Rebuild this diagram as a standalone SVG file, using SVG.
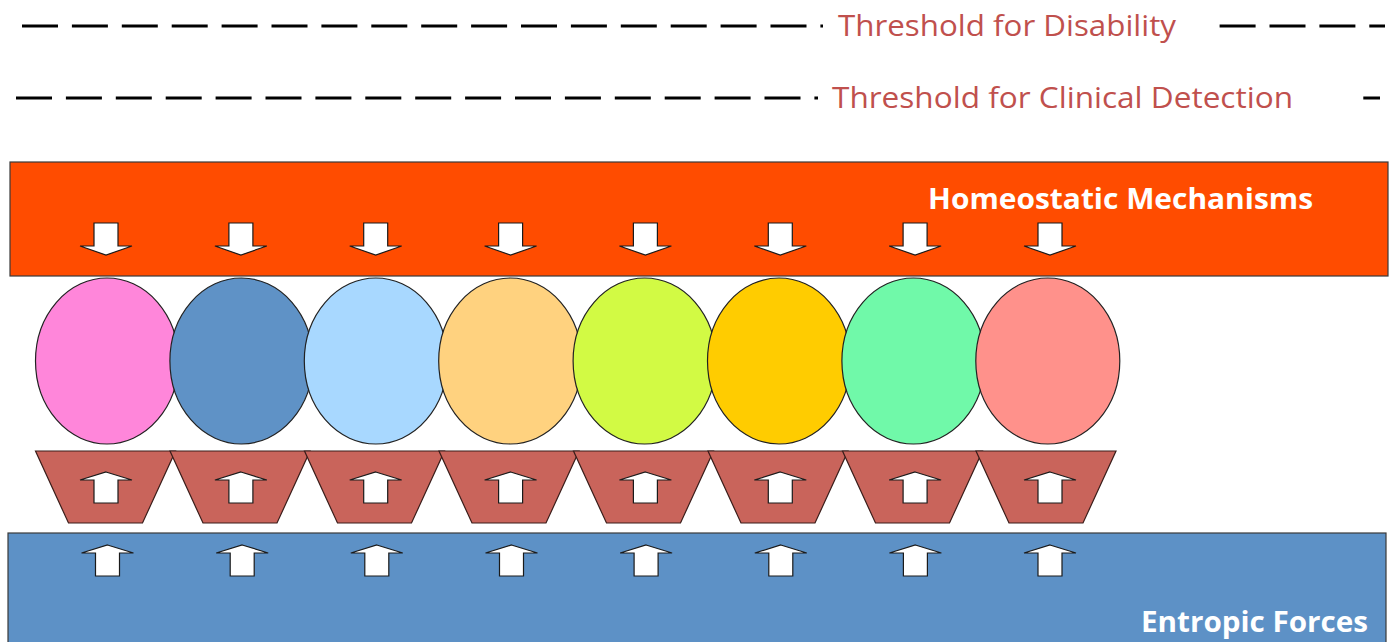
<svg xmlns="http://www.w3.org/2000/svg" xmlns:xlink="http://www.w3.org/1999/xlink" width="1396" height="642" viewBox="0 0 1396 642">
  <style>
    .dash { stroke: #000; stroke-width: 3; stroke-dasharray: 36 13.9; fill: none; }
    .thr { font-family: "Open Sans", "Noto Sans", sans-serif; font-size: 29px; fill: #C0504D; }
    .bar-label { font-family: "Open Sans", "Noto Sans", sans-serif; font-size: 28px; font-weight: bold; fill: #fff; }
    .bar { stroke: #3a3a3a; stroke-width: 1.2; }
    .cell { stroke: #222; stroke-width: 1.2; }
    .cup { fill: #C9645B; stroke: #3a1d1a; stroke-width: 1.2; }
    .arrow { fill: #fff; stroke: #1a1a1a; stroke-width: 1.2; stroke-linejoin: miter; }
  </style>
  <defs>
    <polygon id="arrowDown" points="-12,0 12,0 12,23 26,23 0,32 -26,23 -12,23"/>
    <polygon id="arrowUp" points="0,0 26,8 12,8 12,31 -12,31 -12,8 -26,8"/>
    <polygon id="cupShape" points="-70,0 70,0 37,72 -37,72"/>
  </defs>

  <rect width="1396" height="642" fill="#fff"/>

  <!-- Threshold lines -->
  <g id="threshold-disability">
    <line class="dash" x1="22" y1="26" x2="1385" y2="26"/>
    <rect x="823" y="8" width="396" height="38" fill="#fff"/>
    <text class="thr" x="838" y="36" textLength="338" lengthAdjust="spacingAndGlyphs">Threshold for Disability</text>
  </g>
  <g id="threshold-clinical">
    <line class="dash" x1="16" y1="98" x2="1380" y2="98"/>
    <rect x="818" y="80" width="543" height="38" fill="#fff"/>
    <text class="thr" x="832" y="108" textLength="461" lengthAdjust="spacingAndGlyphs">Threshold for Clinical Detection</text>
  </g>

  <!-- Homeostatic mechanisms bar -->
  <g id="homeostatic">
    <rect class="bar" x="10" y="162" width="1378" height="114" fill="#FF4C00"/>
    <text class="bar-label" x="928" y="209" textLength="385" lengthAdjust="spacingAndGlyphs">Homeostatic Mechanisms</text>
  </g>

  <!-- Entropic forces bar -->
  <g id="entropic">
    <rect class="bar" x="8" y="533" width="1378" height="120" fill="#5D91C6"/>
    <text class="bar-label" x="1141" y="632" textLength="227" lengthAdjust="spacingAndGlyphs">Entropic Forces</text>
  </g>

  <!-- Cells -->
  <g id="cells">
    <ellipse id="cell-1" class="cell" cx="107" cy="361" rx="71.5" ry="83" fill="#FF86DA"/>
    <ellipse id="cell-2" class="cell" cx="241.4" cy="361" rx="71.5" ry="83" fill="#5F92C6"/>
    <ellipse id="cell-3" class="cell" cx="375.8" cy="361" rx="71.5" ry="83" fill="#A8D8FF"/>
    <ellipse id="cell-4" class="cell" cx="510.2" cy="361" rx="71.5" ry="83" fill="#FFD27F"/>
    <ellipse id="cell-5" class="cell" cx="644.6" cy="361" rx="71.5" ry="83" fill="#D2FA44"/>
    <ellipse id="cell-6" class="cell" cx="779" cy="361" rx="71.5" ry="83" fill="#FFCC00"/>
    <ellipse id="cell-7" class="cell" cx="913.4" cy="361" rx="71.5" ry="83" fill="#70F9A9"/>
    <ellipse id="cell-8" class="cell" cx="1047.8" cy="361" rx="72" ry="83" fill="#FF918B"/>
  </g>

  <!-- Trapezoid supports -->
  <g id="cups">
    <use xlink:href="#cupShape" class="cup" transform="translate(105.5,451)"/>
    <use xlink:href="#cupShape" class="cup" transform="translate(240,451)"/>
    <use xlink:href="#cupShape" class="cup" transform="translate(374.5,451)"/>
    <use xlink:href="#cupShape" class="cup" transform="translate(509,451)"/>
    <use xlink:href="#cupShape" class="cup" transform="translate(643.5,451)"/>
    <use xlink:href="#cupShape" class="cup" transform="translate(778,451)"/>
    <use xlink:href="#cupShape" class="cup" transform="translate(912.5,451)"/>
    <use xlink:href="#cupShape" class="cup" transform="translate(1046,451)"/>
  </g>

  <!-- Force arrows -->
  <g id="connectors">
    <g id="arrows-down">
      <use xlink:href="#arrowDown" class="arrow" transform="translate(106,223)"/>
      <use xlink:href="#arrowDown" class="arrow" transform="translate(240.9,223)"/>
      <use xlink:href="#arrowDown" class="arrow" transform="translate(375.7,223)"/>
      <use xlink:href="#arrowDown" class="arrow" transform="translate(510.6,223)"/>
      <use xlink:href="#arrowDown" class="arrow" transform="translate(645.4,223)"/>
      <use xlink:href="#arrowDown" class="arrow" transform="translate(780.3,223)"/>
      <use xlink:href="#arrowDown" class="arrow" transform="translate(915.1,223)"/>
      <use xlink:href="#arrowDown" class="arrow" transform="translate(1050,223)"/>
    </g>
    <g id="arrows-up-cups">
      <use xlink:href="#arrowUp" class="arrow" transform="translate(106,472)"/>
      <use xlink:href="#arrowUp" class="arrow" transform="translate(240.9,472)"/>
      <use xlink:href="#arrowUp" class="arrow" transform="translate(375.7,472)"/>
      <use xlink:href="#arrowUp" class="arrow" transform="translate(510.6,472)"/>
      <use xlink:href="#arrowUp" class="arrow" transform="translate(645.4,472)"/>
      <use xlink:href="#arrowUp" class="arrow" transform="translate(780.3,472)"/>
      <use xlink:href="#arrowUp" class="arrow" transform="translate(915.1,472)"/>
      <use xlink:href="#arrowUp" class="arrow" transform="translate(1050,472)"/>
    </g>
    <g id="arrows-up-entropic">
      <use xlink:href="#arrowUp" class="arrow" transform="translate(107.5,545)"/>
      <use xlink:href="#arrowUp" class="arrow" transform="translate(242.2,545)"/>
      <use xlink:href="#arrowUp" class="arrow" transform="translate(376.8,545)"/>
      <use xlink:href="#arrowUp" class="arrow" transform="translate(511.5,545)"/>
      <use xlink:href="#arrowUp" class="arrow" transform="translate(646.1,545)"/>
      <use xlink:href="#arrowUp" class="arrow" transform="translate(780.8,545)"/>
      <use xlink:href="#arrowUp" class="arrow" transform="translate(915.4,545)"/>
      <use xlink:href="#arrowUp" class="arrow" transform="translate(1050,545)"/>
    </g>
  </g>
</svg>
